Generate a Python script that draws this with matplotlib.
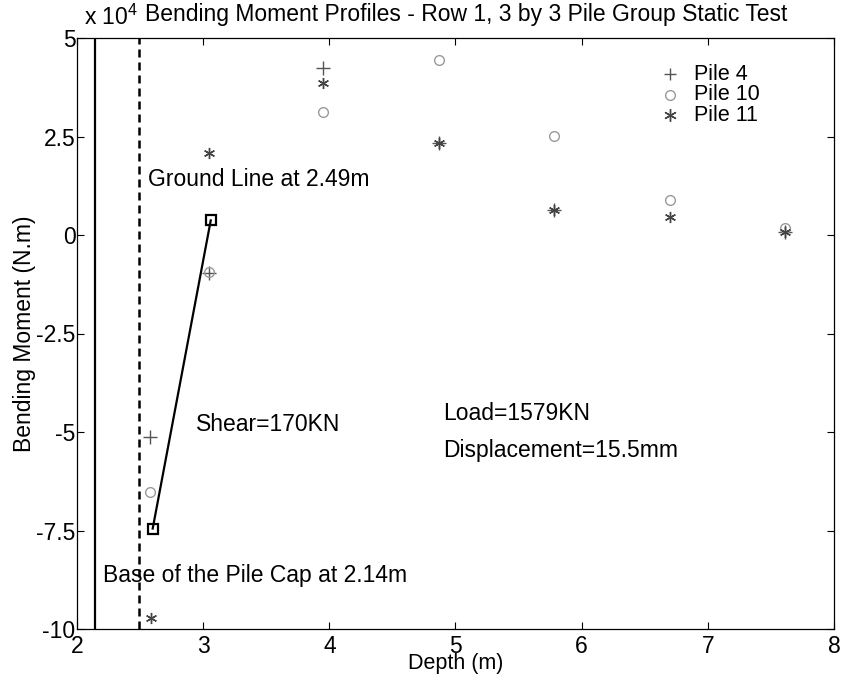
import numpy as np
import matplotlib
matplotlib.use("Agg")
import matplotlib.pyplot as plt
from matplotlib.ticker import FuncFormatter

plt.rcParams['font.family'] = ['Liberation Sans', 'DejaVu Sans']
plt.rcParams['mathtext.fontset'] = 'custom'
plt.rcParams['mathtext.rm'] = 'Liberation Sans'

# depths (m) and bending moments (N.m)
depth4 = [2.58, 3.05, 3.95, 4.87, 5.78, 7.61]
moment4 = [-51300, -9600, 42500, 23400, 6300, 800]

depth10 = [2.58, 3.05, 3.95, 4.87, 5.78, 6.70, 7.61]
moment10 = [-65200, -9500, 31200, 44400, 25100, 8900, 1800]

depth11 = [2.59, 3.05, 3.95, 4.87, 5.78, 6.70, 7.61]
moment11 = [-97200, 20800, 38600, 23400, 6300, 4600, 800]

cap_base = 2.14
ground = 2.49
shear = 170000.0        # N
z0, z1 = 2.60, 3.06
m0 = -74500.0

yticks = [50000, 25000, 0, -25000, -50000, -75000, -100000]
xticks = [2, 3, 4, 5, 6, 7, 8]

fs = 16.5

fig = plt.figure(figsize=(8.43, 6.77), dpi=100)
ax = fig.add_axes([77/843, 48/677, 757/843, 591/677])

ax.axvline(cap_base, color='black', lw=1.6)
ax.axvline(ground, color='black', lw=1.8, dashes=(3.2, 2.0))

# shear line: slope of the moment profile
zs = np.array([z0, z1])
ms = m0 + shear * (zs - z0)
ax.plot(zs, ms, color='black', lw=1.6, marker='s', ms=7, mfc='none', mew=1.6)

ax.plot(depth4, moment4, ls='none', marker='+', ms=10, mew=1.0, color='#555555')
ax.plot(depth10, moment10, ls='none', marker='o', ms=7, mfc='none', mew=1.0, color='#9a9a9a')
ax.plot(depth11, moment11, ls='none', marker=(6, 2, 0), ms=8, mew=1.0, color='#444444')

# legend drawn by hand
lx, lt = 6.70, 6.89
for yy, mk, col, lab in [(40800, '+', '#555555', 'Pile 4'),
                         (35600, 'o', '#9a9a9a', 'Pile 10'),
                         (30400, (6, 2, 0), '#444444', 'Pile 11')]:
    ax.plot([lx], [yy], ls='none', marker=mk, ms=7 if mk == 'o' else 9,
            mfc='none', mew=1.0, color=col)
    ax.text(lt, yy, lab, fontsize=15.5, va='center', ha='left')

ax.text(2.56, 14000, 'Ground Line at 2.49m', fontsize=fs, va='center')
ax.text(2.94, -48200, 'Shear=170KN', fontsize=fs, va='center')
ax.text(4.90, -45200, 'Load=1579KN', fontsize=fs, va='center')
ax.text(4.90, -54600, 'Displacement=15.5mm', fontsize=fs, va='center')
ax.text(2.21, -86300, 'Base of the Pile Cap at 2.14m', fontsize=fs, va='center')

ax.set_xlim(2, 8)
ax.set_ylim(-100000, 50000)
ax.set_xticks(xticks)
ax.set_yticks(yticks)
ax.yaxis.set_major_formatter(FuncFormatter(lambda v, p: ('%g' % (v / 1e4))))
ax.tick_params(direction='in', length=5, width=0.8, labelsize=fs,
               top=True, right=True, pad=4)
ax.tick_params(axis='y', pad=1)
for s in ax.spines.values():
    s.set_linewidth(0.9)

ax.set_xlabel('Depth (m)', fontsize=15.5, labelpad=-3)
ax.set_ylabel('Bending Moment (N.m)', fontsize=fs, labelpad=0)

fig.text(84/843, 1 - 17/677, r'x 10$^{4}$', fontsize=fs, va='center', ha='left')
fig.text(466/843, 1 - 15/677, 'Bending Moment Profiles - Row 1, 3 by 3 Pile Group Static Test',
         fontsize=fs, va='center', ha='center')

fig.savefig('out.png', dpi=100)
